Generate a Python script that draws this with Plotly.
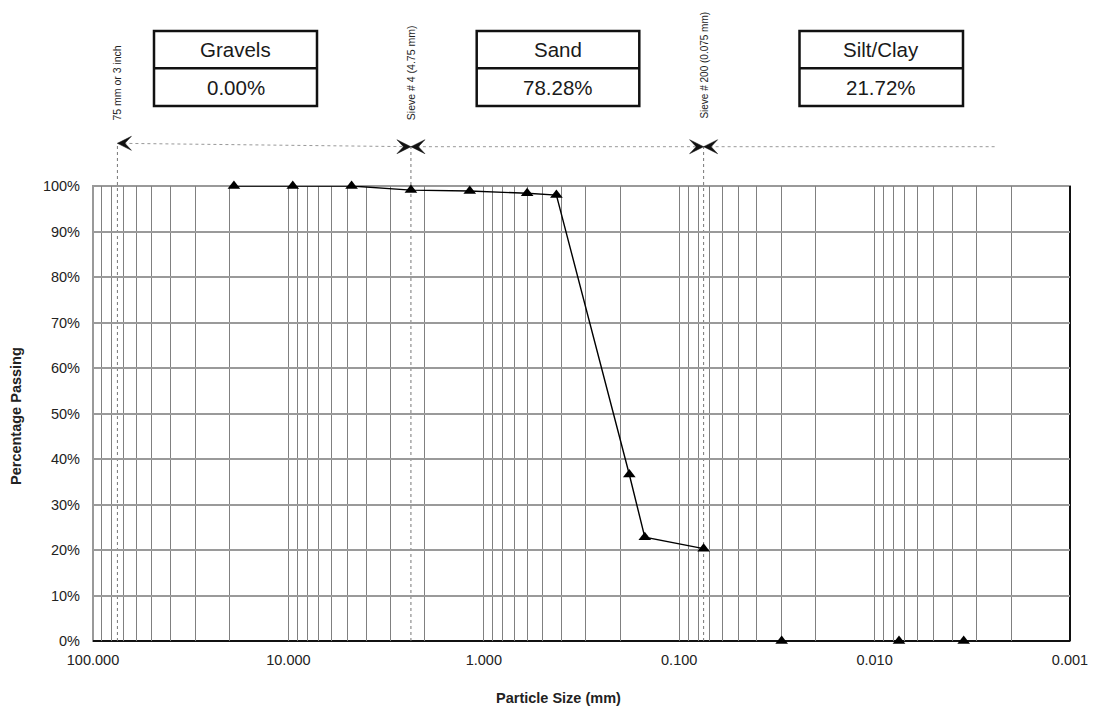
import numpy as np
import plotly.graph_objects as go

# ---------------- data ----------------
# sieve analysis (connected line)
sieve_mm = [19.0, 9.5, 4.75, 2.36, 1.18, 0.6, 0.425, 0.18, 0.15, 0.075]
sieve_passing = [100, 100, 100, 99.1, 98.9, 98.4, 98.0, 36.6, 22.8, 20.3]
# finer points (markers only)
fine_mm = [0.0299, 0.0075, 0.0035]
fine_passing = [0, 0, 0]

x_tickvals = [100, 10, 1, 0.1, 0.01, 0.001]
x_ticktext = ["100.000", "10.000", "1.000", "0.100", "0.010", "0.001"]
y_tickvals = [0, 10, 20, 30, 40, 50, 60, 70, 80, 90, 100]

class_names = ["Gravels", "Sand", "Silt/Clay"]
class_values = ["0.00%", "78.28%", "21.72%"]

sieve_sizes = [75, 2.36, 0.075]
sieve_labels = ["75 mm or 3 inch", "Sieve # 4 (4.75 mm)", "Sieve # 200 (0.075 mm)"]
line_end = 0.0024  # right end of the dotted bracket line

# ---------------- layout helpers (reference pixel coordinates) ----------------
WIN_W, WIN_H = 1097, 714
BODY = 8  # default page margin of the html body
FW, FH = WIN_W - 2 * BODY, WIN_H - 2 * BODY
L, R, T, B = 93, 1070, 186, 641
PW, PH = R - L, B - T


def pxx(px):
    return (px - L) / PW


def pxy(py):
    return (B - py) / PH


FONT = "Liberation Sans, Arial, sans-serif"

minor_vals = [m * 10.0 ** e for e in range(-3, 2) for m in range(2, 10)]

fig = go.Figure()

fig.add_trace(go.Scatter(
    x=sieve_mm, y=sieve_passing, mode="lines+markers",
    line=dict(color="black", width=1.4),
    marker=dict(symbol="triangle-up", size=11, color="black"),
    cliponaxis=False, showlegend=False, hoverinfo="x+y",
))
fig.add_trace(go.Scatter(
    x=fine_mm, y=fine_passing, mode="markers",
    marker=dict(symbol="triangle-up", size=11, color="black"),
    cliponaxis=False, showlegend=False, hoverinfo="x+y",
))

shapes = []
annotations = []

# plot frame (between grid and data)
shapes.append(dict(type="rect", xref="paper", yref="paper", x0=0, x1=1, y0=0, y1=1,
                   line=dict(color="#999999", width=2), layer="between"))
shapes.append(dict(type="line", xref="paper", yref="paper", x0=0, x1=1, y0=0, y1=0,
                   line=dict(color="#111111", width=2), layer="between"))
shapes.append(dict(type="line", xref="paper", yref="paper", x0=1, x1=1, y0=0, y1=1,
                   line=dict(color="#111111", width=2), layer="between"))

arrow_y = pxy(146.7)
arrow_y_left = pxy(143.3)

# vertical dotted sieve lines
for s in sieve_sizes:
    shapes.append(dict(type="line", xref="x", yref="paper", x0=s, x1=s,
                       y0=0, y1=arrow_y_left if s == sieve_sizes[0] else arrow_y,
                       line=dict(color="#777777", width=1, dash="dot"), layer="between"))

# horizontal dotted bracket lines
shapes.append(dict(type="line", xref="x", yref="paper", x0=sieve_sizes[0], x1=sieve_sizes[1],
                   y0=arrow_y_left, y1=arrow_y, line=dict(color="#999999", width=1, dash="dot")))
shapes.append(dict(type="line", xref="x", yref="paper", x0=sieve_sizes[1], x1=sieve_sizes[2],
                   y0=arrow_y, y1=arrow_y, line=dict(color="#999999", width=1, dash="dot")))
shapes.append(dict(type="line", xref="x", yref="paper", x0=sieve_sizes[2], x1=line_end,
                   y0=arrow_y, y1=arrow_y, line=dict(color="#999999", width=1, dash="dot")))

# notched arrowheads (pixel-sized, anchored at the sieve sizes)
LEFT_HEAD = "M0,0 L14,7 L7.5,0 L14,-7 Z"
RIGHT_HEAD = "M0,0 L-14,7 L-7.5,0 L-14,-7 Z"
arrow_specs = [
    (sieve_sizes[0], arrow_y_left, LEFT_HEAD),
    (sieve_sizes[1], arrow_y, RIGHT_HEAD),
    (sieve_sizes[1], arrow_y, LEFT_HEAD),
    (sieve_sizes[2], arrow_y, RIGHT_HEAD),
    (sieve_sizes[2], arrow_y, LEFT_HEAD),
]
for xv, yv, p in arrow_specs:
    shapes.append(dict(type="path", xref="x", yref="paper", xsizemode="pixel", ysizemode="pixel",
                       xanchor=xv, yanchor=yv, path=p, fillcolor="#111111",
                       line=dict(color="#111111", width=0.5)))

# rotated sieve labels
label_bottoms = [122.7, 121.7, 120.5]
label_sizes = [10.5, 10.5, 10]
for s, lab, bot, fs in zip(sieve_sizes, sieve_labels, label_bottoms, label_sizes):
    annotations.append(dict(
        x=np.log10(s), y=pxy(bot), xref="x", yref="paper", text=lab, showarrow=False,
        textangle=-90, xanchor="center", yanchor="bottom",
        font=dict(family=FONT, size=fs, color="#222222"),
    ))

# class boxes
box_x = [(154, 317), (476.7, 639.3), (799.5, 963)]
box_top, box_mid, box_bot = 31, 68.3, 106
for (x0, x1), name, val in zip(box_x, class_names, class_values):
    shapes.append(dict(type="rect", xref="paper", yref="paper",
                       x0=pxx(x0), x1=pxx(x1), y0=pxy(box_bot), y1=pxy(box_top),
                       line=dict(color="#111111", width=2.5), fillcolor="white"))
    shapes.append(dict(type="line", xref="paper", yref="paper",
                       x0=pxx(x0), x1=pxx(x1), y0=pxy(box_mid), y1=pxy(box_mid),
                       line=dict(color="#111111", width=2.5)))
    xc = pxx((x0 + x1) / 2)
    annotations.append(dict(x=xc, y=pxy((box_top + box_mid) / 2), xref="paper", yref="paper",
                            text=name, showarrow=False, xanchor="center", yanchor="middle",
                            font=dict(family=FONT, size=20.5, color="#1a1a1a")))
    annotations.append(dict(x=xc, y=pxy((box_mid + box_bot) / 2), xref="paper", yref="paper",
                            text=val, showarrow=False, xanchor="center", yanchor="middle",
                            font=dict(family=FONT, size=20.5, color="#1a1a1a")))

# axis titles
annotations.append(dict(x=pxx(16), y=pxy(416), xref="paper", yref="paper",
                        text="<b>Percentage Passing</b>", showarrow=False, textangle=-90,
                        xanchor="center", yanchor="middle",
                        font=dict(family=FONT, size=14.5, color="#222222")))
annotations.append(dict(x=pxx(558), y=pxy(698), xref="paper", yref="paper",
                        text="<b>Particle Size (mm)</b>", showarrow=False,
                        xanchor="center", yanchor="middle",
                        font=dict(family=FONT, size=14.5, color="#222222")))

fig.update_layout(
    width=FW, height=FH, autosize=False,
    margin=dict(l=L - BODY, r=FW - (R - BODY), t=T - BODY, b=FH - (B - BODY), pad=0,
                autoexpand=False),
    paper_bgcolor="white", plot_bgcolor="white",
    font=dict(family=FONT, size=14, color="#222222"),
    shapes=shapes, annotations=annotations, showlegend=False,
    xaxis=dict(
        type="log", range=[2, -3], tickmode="array", tickvals=x_tickvals, ticktext=x_ticktext,
        showgrid=True, gridcolor="#808080", gridwidth=1, zeroline=False, showline=False,
        automargin=False,
        ticks="", ticklabelstandoff=8, tickfont=dict(family=FONT, size=14.5, color="#222222"),
        minor=dict(tickmode="array", tickvals=minor_vals, showgrid=True,
                   gridcolor="#808080", gridwidth=1, ticks=""),
    ),
    yaxis=dict(
        range=[0, 100], tickmode="array", tickvals=y_tickvals,
        ticktext=[f"{v}%" for v in y_tickvals],
        showgrid=True, gridcolor="#9a9a9a", gridwidth=1.5, zeroline=False, showline=False,
        automargin=False,
        ticks="", ticklabelstandoff=12, tickfont=dict(family=FONT, size=14.5, color="#222222"),
    ),
)

fig.write_html("out.html")
